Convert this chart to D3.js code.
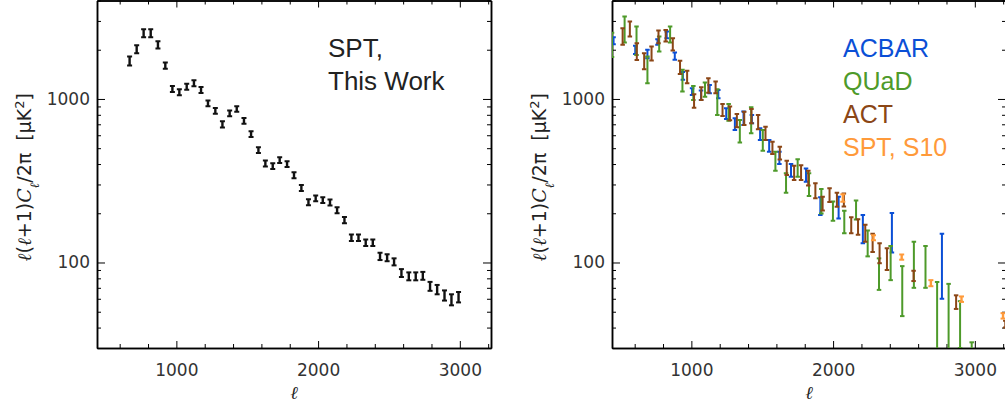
<!DOCTYPE html>
<html>
<head>
<meta charset="utf-8">
<script src="https://cdn.jsdelivr.net/npm/d3@7"></script>
<style>
  body { margin: 0; background: #fff; }
  svg { display: block; }
  .tick text { font-family: "DejaVu Sans", sans-serif; font-size: 17px; fill: #333; }
  .domain { stroke-width: 1.5; }
</style>
</head>
<body>
<div class="chart-container"></div>
<script>
const svgWidth = 1005;
const svgHeight = 407;
const plotWidth = 394;
const plotHeight = 347.5;

// axis ticks
const xMajorTicks = [1000, 2000, 3000];
const xMinorTicks = [600, 800, 1200, 1400, 1600, 1800, 2200, 2400, 2600, 2800, 3200];
const yMajorTicks = [100, 1000];
const yMinorTicks = [30, 40, 50, 60, 70, 80, 90, 200, 300, 400, 500, 600, 700, 800, 900, 2000, 3000, 4000];

// left panel: SPT, this work
const sptEll = [670, 720, 769, 819, 870, 922, 972, 1021, 1073, 1124, 1174, 1223, 1275, 1325, 1376, 1426,
  1477, 1527, 1579, 1628, 1680, 1729, 1781, 1830, 1882, 1932, 1983, 2033, 2084, 2134, 2186, 2235,
  2285, 2336, 2386, 2437, 2487, 2536, 2588, 2640, 2689, 2739, 2790, 2840, 2892, 2941, 2991];
const sptPower = [1709, 2015, 2525, 2525, 2142, 1600, 1151, 1099, 1190, 1248, 1135, 941, 845, 700, 817, 869,
  736, 610, 487, 404, 389, 423, 400, 342, 286, 234, 247, 241, 233, 209, 182, 142,
  142, 132, 132, 109, 107, 101, 86.3, 82.4, 82.4, 83, 71.6, 68.4, 63, 59.3, 61.5];
const sptErr = [110, 115, 140, 140, 110, 70, 50, 47, 50, 52, 48, 38, 34, 30, 33, 35,
  30, 25, 20, 17, 16, 17, 16, 14, 12, 10, 10, 10, 10, 9, 8, 6.5,
  6.5, 6, 6, 5.5, 5.2, 5, 4.8, 4.6, 4.6, 4.6, 4.5, 4.5, 4.5, 4.6, 4.5];

// right panel: other experiments
const acbarEll = [451, 604, 690, 761, 826, 883, 940, 1005, 1068, 1129, 1190, 1246, 1307, 1368, 1427, 1485,
  1549, 1621, 1703, 1809, 1910, 2039, 2210, 2415, 2768];
const acbarPower = [2273, 1999, 1885, 2230, 2466, 1829, 1385, 1110, 1055, 1150, 1072, 815, 704, 765, 754, 611,
  518, 438, 367, 344, 223, 219, 163, 158, 105];
const acbarErr = [112, 113, 111, 88, 116, 95, 75, 52, 70, 68, 63, 62, 58, 72, 44, 50,
  43, 38, 33, 32, 28, 33, 32, 43, 45];

const quadEll = [440, 529, 613, 690, 773, 850, 937, 1014, 1096, 1183, 1263, 1342, 1422, 1504, 1593, 1668,
  1750, 1830, 1917, 1999, 2079, 2162, 2244, 2324, 2406, 2488, 2570, 2652, 2734, 2815, 2896, 2978];
const quadPower = [2172, 2703, 2315, 1531, 2181, 2493, 1308, 1094, 1146, 972, 834, 642, 753, 565, 420, 309,
  381, 303, 240, 208, 179, 211, 133, 87, 102, 71, 102, 98, 48, 46, 44, 31];
const quadErr = [364, 490, 458, 284, 231, 280, 199, 108, 113, 174, 98, 101, 136, 82, 56, 42,
  47, 48, 41, 28, 28, 28, 24, 19, 24, 24, 32, 28, 28, 28, 14, 1.5];

const actEll = [515, 566, 615, 667, 719, 768, 819, 869, 920, 970, 1019, 1070, 1120, 1171, 1220, 1272,
  1321, 1373, 1424, 1471, 1523, 1572, 1624, 1673, 1725, 1774, 1825, 1875, 1926, 1975, 2027, 2076,
  2128, 2176, 2227, 2279, 2328, 2380, 2568, 2868, 3215];
const actPower = [2426, 2690, 1962, 1712, 1904, 2405, 2443, 2163, 1566, 1368, 977, 1082, 1216, 1180, 859, 820,
  740, 764, 789, 725, 619, 504, 469, 381, 355, 356, 330, 276, 230, 259, 243, 242,
  170, 166, 152, 133, 115, 106, 83, 57.5, 42];
const actErr = [284, 282, 229, 193, 187, 215, 200, 187, 144, 122, 92, 97, 123, 97, 72, 78,
  69, 72, 79, 73, 58, 44, 42, 38, 36, 37, 34, 29, 22, 25, 24, 22,
  19, 18, 18, 17, 16, 16, 6, 5.5, 2];

const s10Ell = [2069, 2285, 2484, 2690, 2906, 3199];
const s10Power = [248, 142, 108, 74.8, 59.7, 47.2];
const s10Err = [13, 5, 4, 3.2, 2.3, 1.8];

const legendNames = ["ACBAR", "QUaD", "ACT", "SPT, S10"];
const legendColors = ["#0b4fd6", "#4e9a2a", "#8b4616", "#ff9a3a"];

const svg = d3.select(".chart-container")
  .append("svg")
  .attr("width", svgWidth)
  .attr("height", svgHeight);

function drawPanel(id, left) {
  const x = d3.scaleLinear().domain([440, 3220]).range([0, plotWidth]);
  const y = d3.scaleLog().domain([30, 4000]).range([plotHeight, 0]);

  const g = svg.append("g").attr("transform", "translate(" + left + ",0.5)");

  g.append("clipPath").attr("id", id)
    .append("rect")
    .attr("width", plotWidth)
    .attr("height", plotHeight);

  // minor ticks first, majors and frame on top
  g.append("g").attr("transform", "translate(0," + plotHeight + ")")
    .call(d3.axisBottom(x).tickValues(xMinorTicks).tickSize(-4).tickSizeOuter(0).tickFormat(""));
  g.append("g")
    .call(d3.axisTop(x).tickValues(xMinorTicks).tickSize(-4).tickSizeOuter(0).tickFormat(""));
  g.append("g")
    .call(d3.axisLeft(y).tickValues(yMinorTicks).tickSize(-4).tickSizeOuter(0).tickFormat(""));
  g.append("g").attr("transform", "translate(" + plotWidth + ",0)")
    .call(d3.axisRight(y).tickValues(yMinorTicks).tickSize(-4).tickSizeOuter(0).tickFormat(""));

  g.append("g").attr("transform", "translate(0," + plotHeight + ")")
    .call(d3.axisBottom(x).tickValues(xMajorTicks).tickSize(-7).tickSizeOuter(0).tickPadding(16).tickFormat(d3.format("d")));
  g.append("g")
    .call(d3.axisTop(x).tickValues(xMajorTicks).tickSize(-7).tickSizeOuter(0).tickFormat(""));
  g.append("g")
    .call(d3.axisLeft(y).tickValues(yMajorTicks).tickSize(-8).tickSizeOuter(0).tickPadding(7).tickFormat(d3.format("d")));
  g.append("g").attr("transform", "translate(" + plotWidth + ",0)")
    .call(d3.axisRight(y).tickValues(yMajorTicks).tickSize(-8).tickSizeOuter(0).tickFormat(""));

  // axis titles
  g.append("text")
    .attr("x", plotWidth / 2)
    .attr("y", 398)
    .attr("text-anchor", "middle")
    .style("font-family", "DejaVu Serif")
    .style("font-style", "italic")
    .style("font-size", "18px")
    .style("fill", "#222")
    .text("ℓ");

  const yTitle = g.append("text")
    .attr("transform", "translate(-66," + (plotHeight / 2 + 3) + ") rotate(-90)")
    .attr("text-anchor", "middle")
    .style("font-family", "DejaVu Sans")
    .style("font-size", "19px")
    .style("fill", "#222")
    .style("white-space", "pre");
  yTitle.append("tspan").style("font-family", "DejaVu Serif").style("font-style", "italic").text("ℓ");
  yTitle.append("tspan").text("(");
  yTitle.append("tspan").style("font-family", "DejaVu Serif").style("font-style", "italic").text("ℓ");
  yTitle.append("tspan").text("+1)");
  yTitle.append("tspan").style("font-family", "DejaVu Serif").style("font-style", "italic").text("C");
  yTitle.append("tspan").attr("baseline-shift", "sub").style("font-size", "13px")
    .style("font-family", "DejaVu Serif").style("font-style", "italic").text("ℓ");
  yTitle.append("tspan").text("/2π  [μK");
  yTitle.append("tspan").attr("baseline-shift", "super").style("font-size", "13px").text("2");
  yTitle.append("tspan").text("]");

  return {g: g, x: x, y: y, clip: "url(#" + id + ")"};
}

function errorBars(panel, ells, vals, errs, color, capW, lineW) {
  const pts = ells.map(function(l, i) {
    return {ell: l, lo: Math.max(vals[i] - errs[i], 1), hi: vals[i] + errs[i]};
  });
  const bars = panel.g.append("g")
    .attr("clip-path", panel.clip)
    .attr("stroke", color)
    .attr("stroke-width", lineW);

  bars.selectAll(".bar").data(pts).enter().append("line")
    .attr("x1", function(d) { return panel.x(d.ell); })
    .attr("x2", function(d) { return panel.x(d.ell); })
    .attr("y1", function(d) { return panel.y(d.lo); })
    .attr("y2", function(d) { return panel.y(d.hi); });

  ["lo", "hi"].forEach(function(end) {
    bars.selectAll(".cap-" + end).data(pts).enter().append("line")
      .attr("x1", function(d) { return panel.x(d.ell) - capW / 2; })
      .attr("x2", function(d) { return panel.x(d.ell) + capW / 2; })
      .attr("y1", function(d) { return panel.y(d[end]); })
      .attr("y2", function(d) { return panel.y(d[end]); })
      .attr("stroke-width", 2);
  });
}

// left
const leftPanel = drawPanel("clipLeft", 97);
errorBars(leftPanel, sptEll, sptPower, sptErr, "#111", 5, 2.4);

svg.append("text").attr("x", 328).attr("y", 57)
  .style("font-family", "Liberation Sans").style("font-size", "26px").style("fill", "#222")
  .text("SPT,");
svg.append("text").attr("x", 328).attr("y", 90)
  .style("font-family", "Liberation Sans").style("font-size", "26px").style("fill", "#222")
  .text("This Work");

// right
const rightPanel = drawPanel("clipRight", 612);
errorBars(rightPanel, acbarEll, acbarPower, acbarErr, legendColors[0], 4.5, 2);
errorBars(rightPanel, quadEll, quadPower, quadErr, legendColors[1], 4.5, 2);
errorBars(rightPanel, actEll, actPower, actErr, legendColors[2], 4.5, 2);
errorBars(rightPanel, s10Ell, s10Power, s10Err, legendColors[3], 5, 2.4);

svg.selectAll(".legend").data(legendNames).enter().append("text")
  .attr("x", 843)
  .attr("y", function(d, i) { return 57 + i * 33; })
  .style("font-family", "Liberation Sans")
  .style("font-size", "25px")
  .style("fill", function(d, i) { return legendColors[i]; })
  .text(function(d) { return d; });
</script>
</body>
</html>
